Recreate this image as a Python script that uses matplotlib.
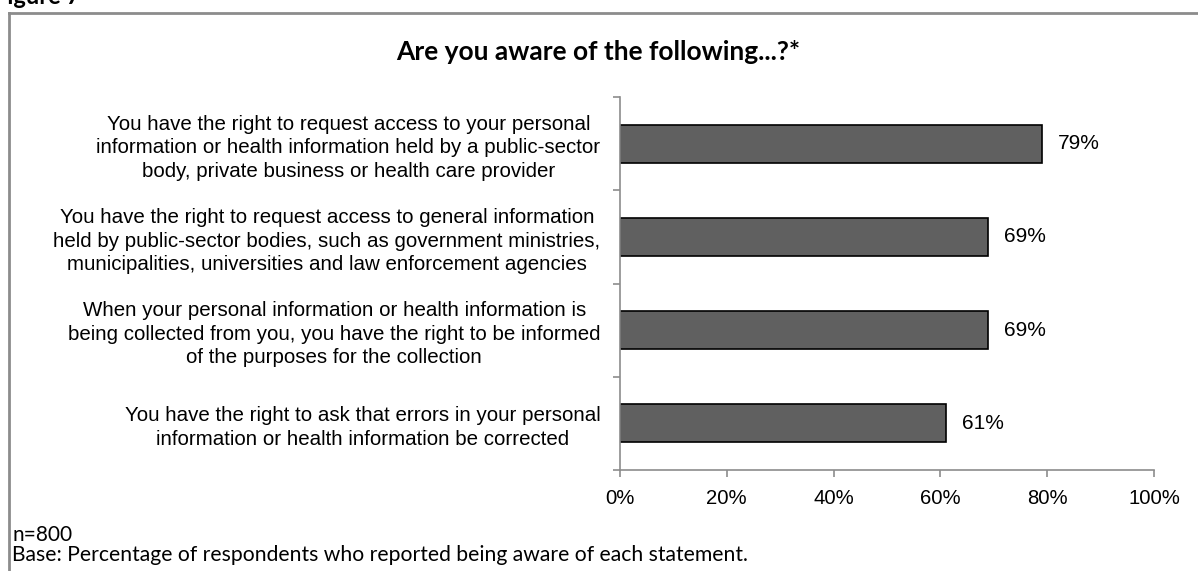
import matplotlib
matplotlib.use("Agg")
import matplotlib.pyplot as plt
from matplotlib.lines import Line2D
from matplotlib.transforms import ScaledTranslation

categories = [
    "You have the right to request access to your personal\ninformation or health information held by a public-sector\nbody, private business or health care provider",
    "You have the right to request access to general information\nheld by public-sector bodies, such as government ministries,\nmunicipalities, universities and law enforcement agencies",
    "When your personal information or health information is\nbeing collected from you, you have the right to be informed\nof the purposes for the collection",
    "You have the right to ask that errors in your personal\ninformation or health information be corrected",
]
values = [79, 69, 69, 61]
x_ticks = [0, 20, 40, 60, 80, 100]
x_tick_labels = ["0%", "20%", "40%", "60%", "80%", "100%"]

W, H = 1198, 571
fig = plt.figure(figsize=(W / 100, H / 100), dpi=100)
fig.patch.set_facecolor("white")

# frame around the chart
frame_color = "#8c8c8c"
fig.add_artist(Line2D([9 / W, 9 / W], [0, 1 - 13 / H], transform=fig.transFigure,
                      color=frame_color, lw=2))
fig.add_artist(Line2D([9 / W, 1], [1 - 13 / H, 1 - 13 / H], transform=fig.transFigure,
                      color=frame_color, lw=2))

# figure caption, partly above the top edge
fig.text(-6 / W, 1 - 4 / H, "Figure 7", fontsize=17, fontweight="bold",
         family="Lato", va="baseline", ha="left")

ax = fig.add_axes([620 / W, 1 - 470 / H, (1154 - 620) / W, (470 - 97) / H])
n = len(categories)
ypos = list(range(n))
ax.barh(ypos, values, height=0.41, color="#606060", edgecolor="black", linewidth=1.2)
ax.set_ylim(n - 0.5, -0.5)
ax.set_xlim(0, 100)

ax.set_xticks(x_ticks)
ax.set_xticklabels(x_tick_labels, family="Liberation Sans", fontsize=14.6)
ax.set_yticks([i - 0.5 for i in range(n + 1)])
ax.set_yticklabels([])
ax.set_yticks(ypos, minor=True)
ax.set_yticklabels(categories, minor=True, family="Liberation Sans", fontsize=14.8,
                   ha="right", multialignment="center", linespacing=1.3)
nudge_up = ScaledTranslation(0, 2 / 72, fig.dpi_scale_trans)
for lbl in ax.get_yticklabels(minor=True):
    lbl.set_transform(lbl.get_transform() + nudge_up)
ax.tick_params(axis="y", which="minor", length=0, pad=14)
ax.tick_params(axis="y", which="major", length=5, color="#8c8c8c", width=1.2)
ax.tick_params(axis="x", length=5, color="#8c8c8c", width=1.2, pad=9)

for s in ["top", "right"]:
    ax.spines[s].set_visible(False)
for s in ["left", "bottom"]:
    ax.spines[s].set_color("#8c8c8c")
    ax.spines[s].set_linewidth(1.2)

for y, v in zip(ypos, values):
    ax.text(v + 3, y, f"{v}%", va="center", ha="left", family="Liberation Sans",
            fontsize=15)

fig.text(598 / W, 1 - 52 / H, "Are you aware of the following...?*", ha="center",
         va="center", fontsize=19, fontweight="bold", family="Lato")

fig.text(12 / W, 1 - 541 / H, "n=800", ha="left", va="baseline", fontsize=15,
         family="Lato")
fig.text(12 / W, 1 - 561 / H,
         "Base: Percentage of respondents who reported being aware of each statement.",
         ha="left", va="baseline", fontsize=15.2, family="Lato")

fig.savefig("out.png", dpi=100)
